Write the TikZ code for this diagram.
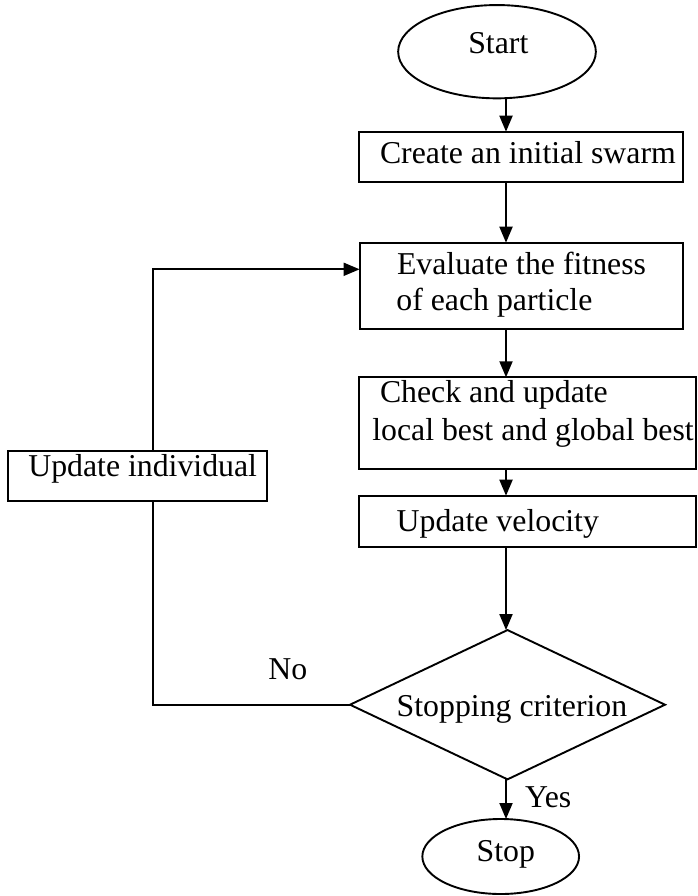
\documentclass[tikz,border=0pt]{standalone}
\usepackage{fontspec}
\setmainfont{Liberation Serif}
\usetikzlibrary{shapes.geometric,arrows.meta}
\begin{document}
\begin{tikzpicture}[x=1pt,y=-1pt,
  line width=1.9pt,
  every node/.style={inner sep=0pt,outer sep=0pt},
  boxnode/.style={draw,rectangle,line width=1.9pt},
  ovalnode/.style={draw,ellipse,line width=1.9pt},
  decnode/.style={draw,diamond,line width=1.9pt},
  txt/.style={anchor=base west,font=\fontsize{31.8pt}{36pt}\selectfont},
  arr/.style={-{Triangle[length=16pt,width=13pt]}}
]
\useasboundingbox (0,0) rectangle (697,896);
% shapes
\node[ovalnode,minimum width=197.7pt,minimum height=93.3pt] (start) at (497,51.7) {};
\node[boxnode,minimum width=324.3pt,minimum height=50pt] (create) at (521.15,156.7) {};
\node[boxnode,minimum width=323.7pt,minimum height=86.3pt] (eval) at (521.45,285.85) {};
\node[boxnode,minimum width=336.7pt,minimum height=92pt] (check) at (527.35,423.3) {};
\node[boxnode,minimum width=336.7pt,minimum height=51pt] (vel) at (527.35,521.2) {};
\node[boxnode,minimum width=259pt,minimum height=50pt] (indiv) at (137.8,476) {};
\node[decnode,minimum width=315pt,minimum height=149.3pt] (crit) at (507.5,704.7) {};
\node[ovalnode,minimum width=156.7pt,minimum height=75pt] (stop) at (500.7,856.5) {};
% texts
\node[txt] (tstart) at (468.3,54) {Start};
\node[txt] (tcreate) at (380,163.3) {Create an initial swarm};
\node[txt] (teval1) at (397,274) {Evaluate the fitness};
\node[txt] (teval2) at (396.4,310) {of each particle};
\node[txt] (tcheck1) at (380,402.7) {Check and update};
\node[txt] (tcheck2) at (372.3,440) {local best and global best};
\node[txt] (tvel) at (396.7,531.7) {Update velocity};
\node[txt] (tindiv) at (28.3,476.7) {Update individual};
\node[txt] (tcrit) at (396.7,716) {Stopping criterion};
\node[txt] (tno) at (268.3,679) {No};
\node[txt] (tyes) at (525,807.7) {Yes};
\node[txt] (tstop) at (476.7,861.7) {Stop};
% connectors
\coordinate (ax) at (506,0);
\coordinate (c1) at (153.3,704.7);
\coordinate (c2) at (153.3,269.3);
\draw[arr] (start.south -| ax) -- (create.north -| ax);
\draw[arr] (create.south -| ax) -- (eval.north -| ax);
\draw[arr] (eval.south -| ax) -- (check.north -| ax);
\draw[arr] (check.south -| ax) -- (vel.north -| ax);
\draw[arr] (vel.south -| ax) -- (crit.north -| ax);
\draw[arr] (crit.south -| ax) -- (stop.north -| ax);
\draw (crit.west) -- (c1) -- (c1 |- indiv.south);
\draw[arr] (c1 |- indiv.north) -- (c2) -- (eval.west |- c2);
\end{tikzpicture}
\end{document}
